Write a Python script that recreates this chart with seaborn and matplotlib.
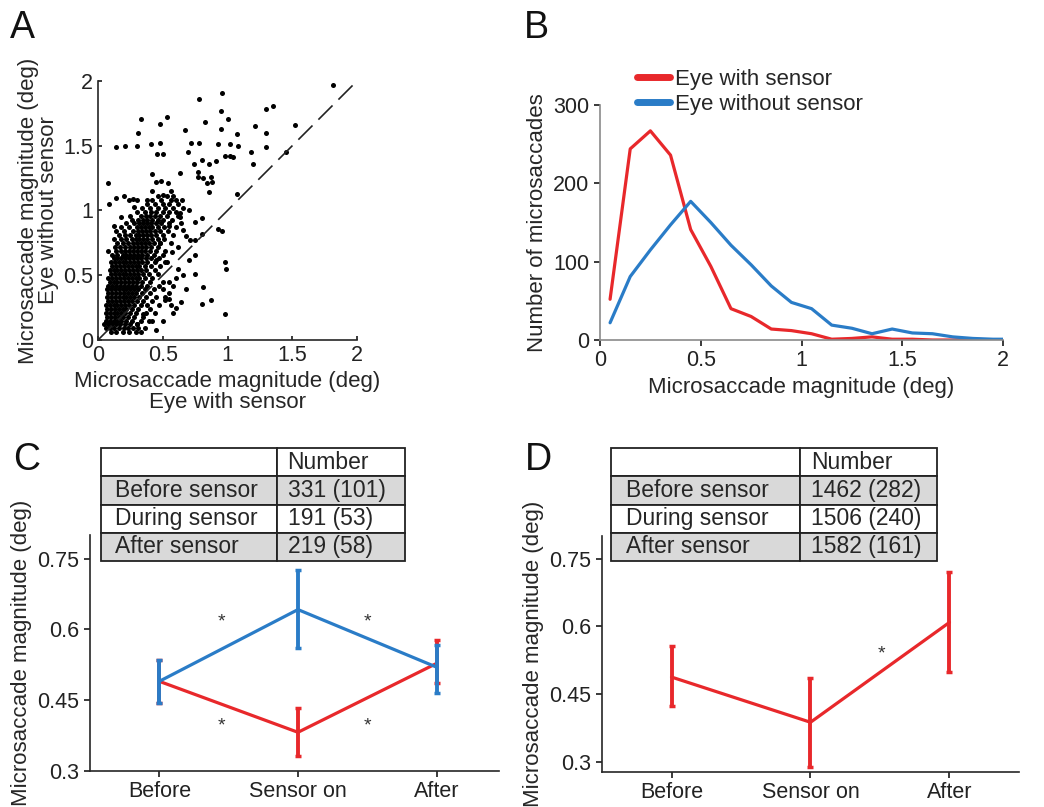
import numpy as np
import pandas as pd
import seaborn as sns
import matplotlib.pyplot as plt
from matplotlib.ticker import FuncFormatter

RED = '#e8282b'
BLUE = '#2a7cc7'

# ---- panel A: magnitude in eye with sensor vs eye without sensor ----
# sparse points
outlier_x = [1.815, 0.96, 0.78, 0.95, 1.30, 1.35, 1.0, 0.535, 0.476, 0.33, 0.83, 0.67, 0.95,
             1.21, 1.52, 0.31, 1.07, 1.30, 0.41, 0.14, 0.21, 0.30, 0.476, 0.72, 0.78, 0.93,
             1.02, 1.08, 1.30, 0.455, 0.50, 0.695, 0.98, 1.02, 1.04, 1.18, 1.45, 0.80, 0.86,
             1.20, 0.74, 0.91, 0.63, 0.415, 0.77, 0.77, 0.81, 0.87, 0.45, 0.49, 0.54, 0.84,
             0.88, 0.075, 0.86, 1.07, 0.93, 0.96, 0.98, 0.99, 0.98, 0.45, 0.80, 0.87, 0.81,
             0.75, 0.75, 0.085, 0.14, 0.20, 0.27, 0.75, 0.80, 0.75, 0.80, 0.63, 0.66, 0.71,
             0.58, 0.50, 0.64, 0.55, 0.68, 0.60, 0.515,
             0.55, 0.60, 0.50, 0.58, 0.62, 0.66, 0.52, 0.57, 0.62, 0.68, 0.55, 0.63, 0.70,
             0.50, 0.56, 0.42, 0.38, 0.65, 0.35, 0.42, 0.30, 0.70, 0.45, 0.48, 0.28, 0.18,
             0.12]
outlier_y = [1.97, 1.91, 1.86, 1.77, 1.78, 1.81, 1.71, 1.72, 1.67, 1.71, 1.68, 1.62, 1.63,
             1.65, 1.66, 1.60, 1.59, 1.60, 1.51, 1.49, 1.50, 1.50, 1.52, 1.52, 1.52, 1.51,
             1.51, 1.50, 1.49, 1.44, 1.44, 1.45, 1.42, 1.42, 1.41, 1.45, 1.45, 1.39, 1.36,
             1.36, 1.36, 1.38, 1.29, 1.28, 1.30, 1.26, 1.25, 1.26, 1.22, 1.23, 1.21, 1.21,
             1.22, 1.21, 1.14, 1.13, 0.86, 0.84, 0.60, 0.55, 0.20, 0.08, 0.28, 0.31, 0.41,
             0.51, 0.66, 1.05, 1.10, 1.11, 1.09, 0.77, 0.82, 0.91, 0.94, 0.98, 0.85, 0.77,
             0.21, 0.15, 0.29, 0.36, 0.39, 0.48, 0.31,
             0.32, 0.25, 0.45, 0.42, 0.55, 0.50, 0.60, 0.68, 0.72, 0.80, 0.88, 0.95, 1.00,
             1.12, 1.15, 1.15, 1.08, 1.08, 0.20, 0.15, 0.12, 0.62, 0.62, 0.75, 1.03, 0.95,
             0.88]

# dense cloud, row by row (y value, x values seen along that row)
cluster_rows = [
    (0.06, [0.10, 0.14, 0.19, 0.24, 0.29, 0.33]),
    (0.09, [0.06, 0.09, 0.12, 0.16, 0.20, 0.23, 0.27, 0.31, 0.36]),
    (0.12, [0.05, 0.08, 0.11, 0.14, 0.17, 0.21, 0.25, 0.30]),
    (0.15, [0.06, 0.09, 0.12, 0.15, 0.18, 0.22, 0.26, 0.33, 0.39]),
    (0.18, [0.07, 0.10, 0.13, 0.16, 0.19, 0.23, 0.28, 0.35]),
    (0.21, [0.06, 0.09, 0.12, 0.15, 0.18, 0.21, 0.25, 0.29, 0.37, 0.44]),
    (0.24, [0.07, 0.10, 0.13, 0.16, 0.19, 0.22, 0.26, 0.31, 0.40]),
    (0.27, [0.06, 0.09, 0.12, 0.15, 0.18, 0.21, 0.24, 0.28, 0.33, 0.38, 0.47, 0.56]),
    (0.30, [0.08, 0.11, 0.14, 0.17, 0.20, 0.23, 0.26, 0.30, 0.35, 0.42]),
    (0.33, [0.07, 0.10, 0.13, 0.16, 0.19, 0.22, 0.25, 0.28, 0.32, 0.37, 0.45, 0.52]),
    (0.36, [0.08, 0.11, 0.14, 0.17, 0.20, 0.23, 0.26, 0.29, 0.34, 0.40]),
    (0.39, [0.07, 0.10, 0.13, 0.16, 0.19, 0.22, 0.25, 0.28, 0.31, 0.36, 0.43, 0.50]),
    (0.42, [0.08, 0.11, 0.14, 0.17, 0.20, 0.23, 0.26, 0.29, 0.33, 0.38, 0.47]),
    (0.45, [0.09, 0.12, 0.15, 0.18, 0.21, 0.24, 0.27, 0.30, 0.34, 0.40, 0.55]),
    (0.48, [0.08, 0.11, 0.14, 0.17, 0.20, 0.23, 0.26, 0.29, 0.32, 0.36, 0.42]),
    (0.51, [0.10, 0.13, 0.16, 0.19, 0.22, 0.25, 0.28, 0.31, 0.35, 0.39, 0.46]),
    (0.54, [0.09, 0.12, 0.15, 0.18, 0.21, 0.24, 0.27, 0.30, 0.33, 0.37, 0.44]),
    (0.57, [0.11, 0.14, 0.17, 0.20, 0.23, 0.26, 0.29, 0.32, 0.36, 0.41, 0.48]),
    (0.60, [0.10, 0.13, 0.16, 0.19, 0.22, 0.25, 0.28, 0.31, 0.34, 0.38, 0.44, 0.53]),
    (0.63, [0.12, 0.15, 0.18, 0.21, 0.24, 0.27, 0.30, 0.33, 0.37, 0.41, 0.47]),
    (0.66, [0.11, 0.15, 0.19, 0.22, 0.25, 0.28, 0.31, 0.34, 0.38, 0.43, 0.50]),
    (0.69, [0.08, 0.14, 0.18, 0.21, 0.24, 0.27, 0.30, 0.33, 0.36, 0.40, 0.45, 0.52]),
    (0.72, [0.13, 0.17, 0.21, 0.25, 0.28, 0.31, 0.34, 0.37, 0.41, 0.46]),
    (0.75, [0.15, 0.19, 0.23, 0.27, 0.30, 0.33, 0.36, 0.39, 0.43, 0.48, 0.56]),
    (0.78, [0.12, 0.18, 0.22, 0.26, 0.29, 0.32, 0.35, 0.38, 0.42, 0.46, 0.51]),
    (0.81, [0.16, 0.21, 0.25, 0.29, 0.32, 0.35, 0.38, 0.41, 0.45, 0.50, 0.58]),
    (0.84, [0.14, 0.20, 0.27, 0.31, 0.34, 0.37, 0.40, 0.44, 0.48, 0.54]),
    (0.87, [0.18, 0.24, 0.30, 0.33, 0.36, 0.39, 0.42, 0.46, 0.51, 0.60]),
    (0.90, [0.22, 0.28, 0.32, 0.35, 0.38, 0.41, 0.45, 0.49, 0.55, 0.64]),
    (0.93, [0.26, 0.31, 0.35, 0.38, 0.42, 0.46, 0.50, 0.57]),
    (0.96, [0.25, 0.33, 0.37, 0.40, 0.44, 0.48, 0.53, 0.62]),
    (0.99, [0.30, 0.36, 0.41, 0.45, 0.50, 0.55, 0.60]),
    (1.02, [0.34, 0.40, 0.46, 0.52, 0.58, 0.66]),
    (1.05, [0.38, 0.44, 0.50, 0.55, 0.62]),
    (1.08, [0.24, 0.30, 0.42, 0.49, 0.56, 0.60]),
    (1.11, [0.46, 0.53, 0.58]),
]

# ---- panel B: histograms ----
bin_centers = [0.05, 0.15, 0.25, 0.35, 0.45, 0.55, 0.65, 0.75, 0.85, 0.95, 1.05,
               1.15, 1.25, 1.35, 1.45, 1.55, 1.65, 1.75, 1.85, 1.95, 2.0]
count_with = [52, 244, 267, 236, 141, 94, 40, 30, 14, 12, 8, 1, 2, 4, 1, 1, 0, 0, 1, 0, 0]
count_without = [22, 81, 115, 147, 177, 150, 121, 96, 69, 48, 40, 19, 15, 8, 14, 9, 8, 4, 2, 1, 1]

# ---- panels C and D ----
conditions = ['Before', 'Sensor on', 'After']
c_with_mean = [0.49, 0.382, 0.528]
c_with_lo = [0.445, 0.332, 0.486]
c_with_hi = [0.535, 0.433, 0.577]
c_without_mean = [0.49, 0.642, 0.52]
c_without_lo = [0.445, 0.56, 0.465]
c_without_hi = [0.535, 0.725, 0.568]
d_mean = [0.488, 0.388, 0.609]
d_lo = [0.424, 0.29, 0.499]
d_hi = [0.556, 0.485, 0.72]

table_rows = ['Before sensor', 'During sensor', 'After sensor']
c_numbers = ['331 (101)', '191 (53)', '219 (58)']
d_numbers = ['1462 (282)', '1506 (240)', '1582 (161)']

sns.set_theme(style='ticks')
plt.rcParams['font.family'] = ['Liberation Sans', 'DejaVu Sans']
plt.rcParams['axes.linewidth'] = 1.2

fig = plt.figure(figsize=(10.44, 8.07), dpi=100)
W, H = 1044.0, 807.0


def box(left, top, right, bottom):
    return [left / W, 1 - bottom / H, (right - left) / W, (bottom - top) / H]


fmt = FuncFormatter(lambda v, p: '%g' % v)

# A
axA = fig.add_axes(box(98, 81, 357, 340))
sx = list(outlier_x)
sy = list(outlier_y)
for yy, xs in cluster_rows:
    sx += xs
    sy += [yy] * len(xs)
dfA = pd.DataFrame({'with': sx, 'without': sy})
sns.scatterplot(data=dfA, x='with', y='without', ax=axA, color='black', s=13, linewidth=0)
axA.plot([0, 2], [0, 2], color='#222222', lw=1.2, dashes=(12, 5))
axA.set_xlim(0, 2)
axA.set_ylim(0, 2)
axA.set_xticks([0, 0.5, 1, 1.5, 2])
axA.set_yticks([0, 0.5, 1, 1.5, 2])
axA.xaxis.set_major_formatter(fmt)
axA.yaxis.set_major_formatter(fmt)
axA.set_xlabel('Microsaccade magnitude (deg)\nEye with sensor', fontsize=16, linespacing=0.95)
axA.set_ylabel('Microsaccade magnitude (deg)\nEye without sensor', fontsize=16, linespacing=0.95,
               labelpad=3)
axA.tick_params(direction='in', length=3, labelsize=15.5, colors='#222222')
sns.despine(ax=axA)

# B
axB = fig.add_axes(box(600, 105, 1003, 340))
dfB = pd.DataFrame({
    'mag': bin_centers + bin_centers,
    'n': count_with + count_without,
    'eye': ['Eye with sensor'] * len(bin_centers) + ['Eye without sensor'] * len(bin_centers),
})
sns.lineplot(data=dfB, x='mag', y='n', hue='eye', palette=[RED, BLUE], lw=2.3, ax=axB)
axB.set_xlim(0, 2)
axB.set_ylim(0, 300)
axB.set_xticks([0, 0.5, 1, 1.5, 2])
axB.set_yticks([0, 100, 200, 300])
axB.xaxis.set_major_formatter(fmt)
axB.set_xlabel('Microsaccade magnitude (deg)', fontsize=16)
axB.set_ylabel('Number of microsaccades', fontsize=16)
axB.tick_params(direction='out', length=4, labelsize=15.5, colors='#222222')
for s in ['left', 'bottom']:
    axB.spines[s].set_color('#8a8a8a')
sns.despine(ax=axB)
leg = axB.legend(loc='upper left', bbox_to_anchor=(0.07, 1.19), frameon=False, fontsize=16,
                 handlelength=1.5, handletextpad=0.2, labelspacing=0.15, borderaxespad=0)
for ln in leg.get_lines():
    ln.set_linewidth(5)


def cond_panel(ax, series, ylim):
    for mean, lo, hi, col in series:
        df = pd.DataFrame({'x': [1, 2, 3], 'y': mean})
        sns.lineplot(data=df, x='x', y='y', color=col, lw=2.3, ax=ax)
        err = [np.array(mean) - np.array(lo), np.array(hi) - np.array(mean)]
        ax.errorbar([1, 2, 3], mean, yerr=err, fmt='none', ecolor=col, elinewidth=2.8,
                    capsize=2.5, capthick=2.5)
    ax.set_xlim(0.5, 3.45)
    ax.set_ylim(*ylim)
    ax.set_xticks([1, 2, 3])
    ax.set_xticklabels(conditions)
    ax.set_yticks([0.3, 0.45, 0.6, 0.75])
    ax.yaxis.set_major_formatter(fmt)
    ax.set_xlabel('')
    ax.set_ylabel('Microsaccade magnitude (deg)', fontsize=16)
    ax.tick_params(direction='out', length=4, labelsize=15.5, colors='#222222')
    sns.despine(ax=ax)


def number_table(rect, numbers):
    tax = fig.add_axes(rect)
    tax.axis('off')
    cells = [['', 'Number']] + [[r, n] for r, n in zip(table_rows, numbers)]
    tb = tax.table(cellText=cells, cellLoc='left', colWidths=[0.58, 0.42], bbox=[0, 0, 1, 1])
    tb.auto_set_font_size(False)
    tb.set_fontsize(16.5)
    for (r, c), cell in tb.get_celld().items():
        cell.set_edgecolor('#222222')
        cell.set_linewidth(1.3)
        cell.set_facecolor('#d9d9d9' if r in (1, 3) else 'white')
        cell.PAD = 0.08


# C
axC = fig.add_axes(box(90, 535, 499, 771))
cond_panel(axC, [(c_with_mean, c_with_lo, c_with_hi, RED),
                 (c_without_mean, c_without_lo, c_without_hi, BLUE)], (0.3, 0.8))
for xs, ys in [(1.45, 0.615), (2.5, 0.615), (1.45, 0.395), (2.5, 0.395)]:
    axC.text(xs, ys, '*', ha='center', va='center', fontsize=14, color='#333333')
number_table(box(101, 448, 405, 561), c_numbers)

# D
axD = fig.add_axes(box(602, 536, 1019, 772))
cond_panel(axD, [(d_mean, d_lo, d_hi, RED)], (0.278, 0.8))
axD.set_xlim(0.5, 3.5)
axD.text(2.51, 0.54, '*', ha='center', va='center', fontsize=14, color='#333333')
number_table(box(611, 448, 937, 561), d_numbers)

for letter, x, y in [('A', 10, 10), ('B', 524, 10), ('C', 13, 442), ('D', 525, 442)]:
    fig.text(x / W, 1 - y / H, letter, fontsize=27, ha='left', va='top', color='#111111')

fig.savefig('out.png', dpi=100)
